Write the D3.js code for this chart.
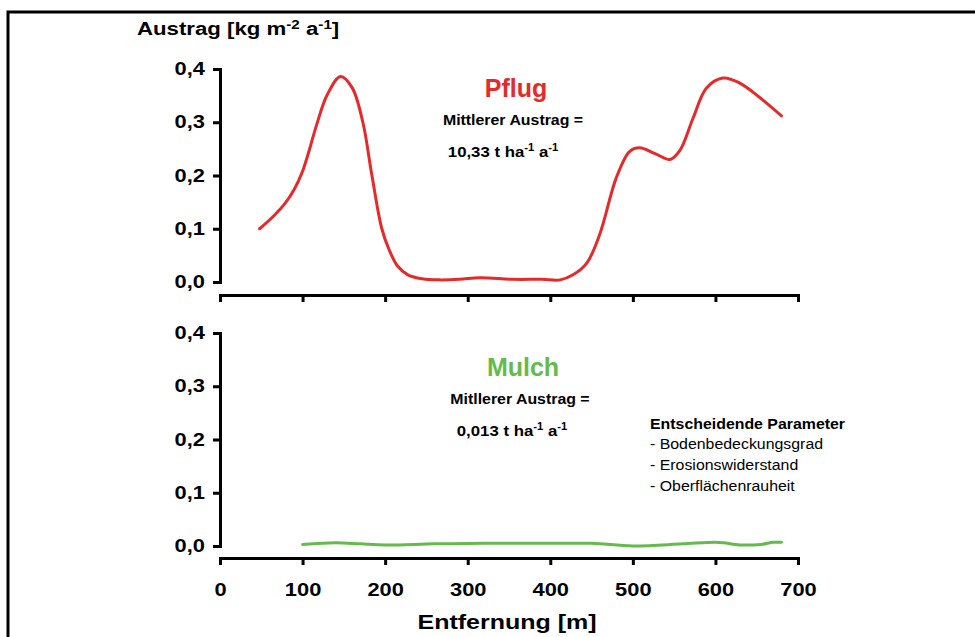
<!DOCTYPE html>
<html lang="de">
<head>
<meta charset="utf-8">
<title>Austrag Pflug / Mulch</title>
<script src="https://d3js.org/d3.v7.min.js"></script>
<style>
  body { margin: 0; background: #fff; }
  svg { font-family: "Liberation Sans", Arial, sans-serif; }
</style>
</head>
<body>
<script>
// Entfernung [m] und Austrag [kg m-2 a-1]
var pflugX = [48, 65, 79, 90, 100, 108, 117, 130, 146, 160, 173, 184, 196, 205, 215, 228, 245, 265, 290, 315, 355, 390, 412, 427, 444, 460, 480, 496, 508, 527, 545, 557, 573, 589, 609, 629, 654, 680];
var pflugY = [0.100, 0.124, 0.148, 0.174, 0.208, 0.247, 0.295, 0.352, 0.386, 0.365, 0.300, 0.200, 0.100, 0.060, 0.030, 0.013, 0.006, 0.004, 0.005, 0.008, 0.005, 0.005, 0.004, 0.013, 0.035, 0.090, 0.196, 0.245, 0.252, 0.241, 0.230, 0.247, 0.308, 0.364, 0.383, 0.374, 0.346, 0.312];
var mulchX = [100, 140, 170, 200, 260, 320, 400, 450, 500, 560, 600, 610, 630, 655, 670, 680];
var mulchY = [0.003, 0.006, 0.004, 0.002, 0.004, 0.005, 0.005, 0.005, 0.000, 0.004, 0.007, 0.006, 0.002, 0.003, 0.007, 0.007];
var xTicks = [0, 100, 200, 300, 400, 500, 600, 700];
var yTicks = [0, 0.1, 0.2, 0.3, 0.4];
var params = ["- Bodenbedeckungsgrad", "- Erosionswiderstand", "- Oberflächenrauheit"];

var w = 975, h = 637;
var red = "#e42a2a", green = "#64bb4c";

var svg = d3.select("body").append("svg")
  .attr("width", w).attr("height", h);

// the source picture is a bit wider than it is tall, so stretch the text sideways
function stretch(sel, k) {
  sel.each(function() {
    var el = d3.select(this);
    var tx = +el.attr("x") || 0, ty = +el.attr("y") || 0;
    el.attr("transform", "translate(" + tx + "," + ty + ") scale(" + k + ",1) translate(" + (-tx) + "," + (-ty) + ")");
  });
}

// Rahmen
svg.append("rect")
  .attr("x", 8).attr("y", 12)
  .attr("width", 1000).attr("height", 700)
  .attr("fill", "none").attr("stroke", "#000").attr("stroke-width", 3);

var de = d3.formatLocale({decimal: ",", thousands: ".", grouping: [3], currency: ["", " €"]});
var fmt = de.format(".1f");

var x = d3.scaleLinear().domain([0, 700]).range([220, 798]);
var yTop = d3.scaleLinear().domain([0, 0.4]).range([282, 69]);
var yBot = d3.scaleLinear().domain([0, 0.4]).range([546, 333]);

function styleAxis(g) {
  g.selectAll("path, line").attr("stroke", "#000").attr("stroke-width", 3);
  g.selectAll("text").attr("font-size", 17.5).attr("font-weight", "bold").attr("fill", "#000")
    .attr("font-family", "'Liberation Sans', Arial, sans-serif")
    .call(stretch, 1.25);
}

function panel(y, axisY, xs, ys, color, showLabels) {
  svg.append("g")
    .attr("transform", "translate(220,0)")
    .call(d3.axisLeft(y).tickValues(yTicks).tickFormat(fmt).tickSize(7).tickSizeOuter(7).tickPadding(8))
    .call(styleAxis);

  var xa = d3.axisBottom(x).tickValues(xTicks).tickSize(7).tickSizeOuter(7).tickPadding(19);
  if (!showLabels) xa.tickFormat("");
  svg.append("g")
    .attr("transform", "translate(0," + axisY + ")")
    .call(xa)
    .call(styleAxis);

  var line = d3.line()
    .x(function(d) { return x(d[0]); })
    .y(function(d) { return y(d[1]); })
    .curve(d3.curveCatmullRom.alpha(0.5));

  svg.append("path")
    .datum(d3.zip(xs, ys))
    .attr("d", line)
    .attr("fill", "none")
    .attr("stroke", color)
    .attr("stroke-width", 3)
    .attr("stroke-linecap", "round");
}

panel(yTop, 295, pflugX, pflugY, red, false);
panel(yBot, 558, mulchX, mulchY, green, true);

// Achsentitel
var t = svg.append("text")
  .attr("x", 137).attr("y", 35)
  .attr("font-size", 19).attr("font-weight", "bold");
t.append("tspan").text("Austrag [kg m");
t.append("tspan").attr("font-size", 13).attr("dy", -6).text("-2");
t.append("tspan").attr("dy", 6).text(" a");
t.append("tspan").attr("font-size", 13).attr("dy", -6).text("-1");
t.append("tspan").attr("dy", 6).text("]");
t.call(stretch, 1.17);

svg.append("text")
  .attr("x", 507).attr("y", 629)
  .attr("text-anchor", "middle")
  .attr("font-size", 20).attr("font-weight", "bold")
  .text("Entfernung [m]")
  .call(stretch, 1.25);

// Beschriftungen der Varianten
function label(cx, cxValue, yName, name, color, line1, value) {
  svg.append("text")
    .attr("x", cx + 3).attr("y", yName)
    .attr("text-anchor", "middle")
    .attr("font-size", 25).attr("font-weight", "bold")
    .attr("fill", color)
    .text(name);
  svg.append("text")
    .attr("x", cx).attr("y", yName + 28)
    .attr("text-anchor", "middle")
    .attr("font-size", 15).attr("font-weight", "bold")
    .text(line1)
    .call(stretch, 1.06);
  var v = svg.append("text")
    .attr("x", cxValue).attr("y", yName + 60)
    .attr("text-anchor", "middle")
    .attr("font-size", 15).attr("font-weight", "bold");
  v.append("tspan").text(value + " t ha");
  v.append("tspan").attr("font-size", 10).attr("dy", -6).text("-1");
  v.append("tspan").attr("dy", 6).text("  a");
  v.append("tspan").attr("font-size", 10).attr("dy", -6).text("-1");
  v.call(stretch, 1.12);
}

label(513, 503, 97, "Pflug", red, "Mittlerer Austrag =", "10,33");
label(520, 512, 376, "Mulch", green, "Mitllerer Austrag =", "0,013");

svg.append("text")
  .attr("x", 650).attr("y", 429)
  .attr("font-size", 15).attr("font-weight", "bold")
  .text("Entscheidende Parameter")
  .call(stretch, 1.06);

svg.selectAll(".param")
  .data(params)
  .enter().append("text")
  .attr("class", "param")
  .attr("x", 650)
  .attr("y", function(d, i) { return 449 + i * 21; })
  .attr("font-size", 15)
  .text(function(d) { return d; })
  .call(stretch, 1.06);
</script>
</body>
</html>
